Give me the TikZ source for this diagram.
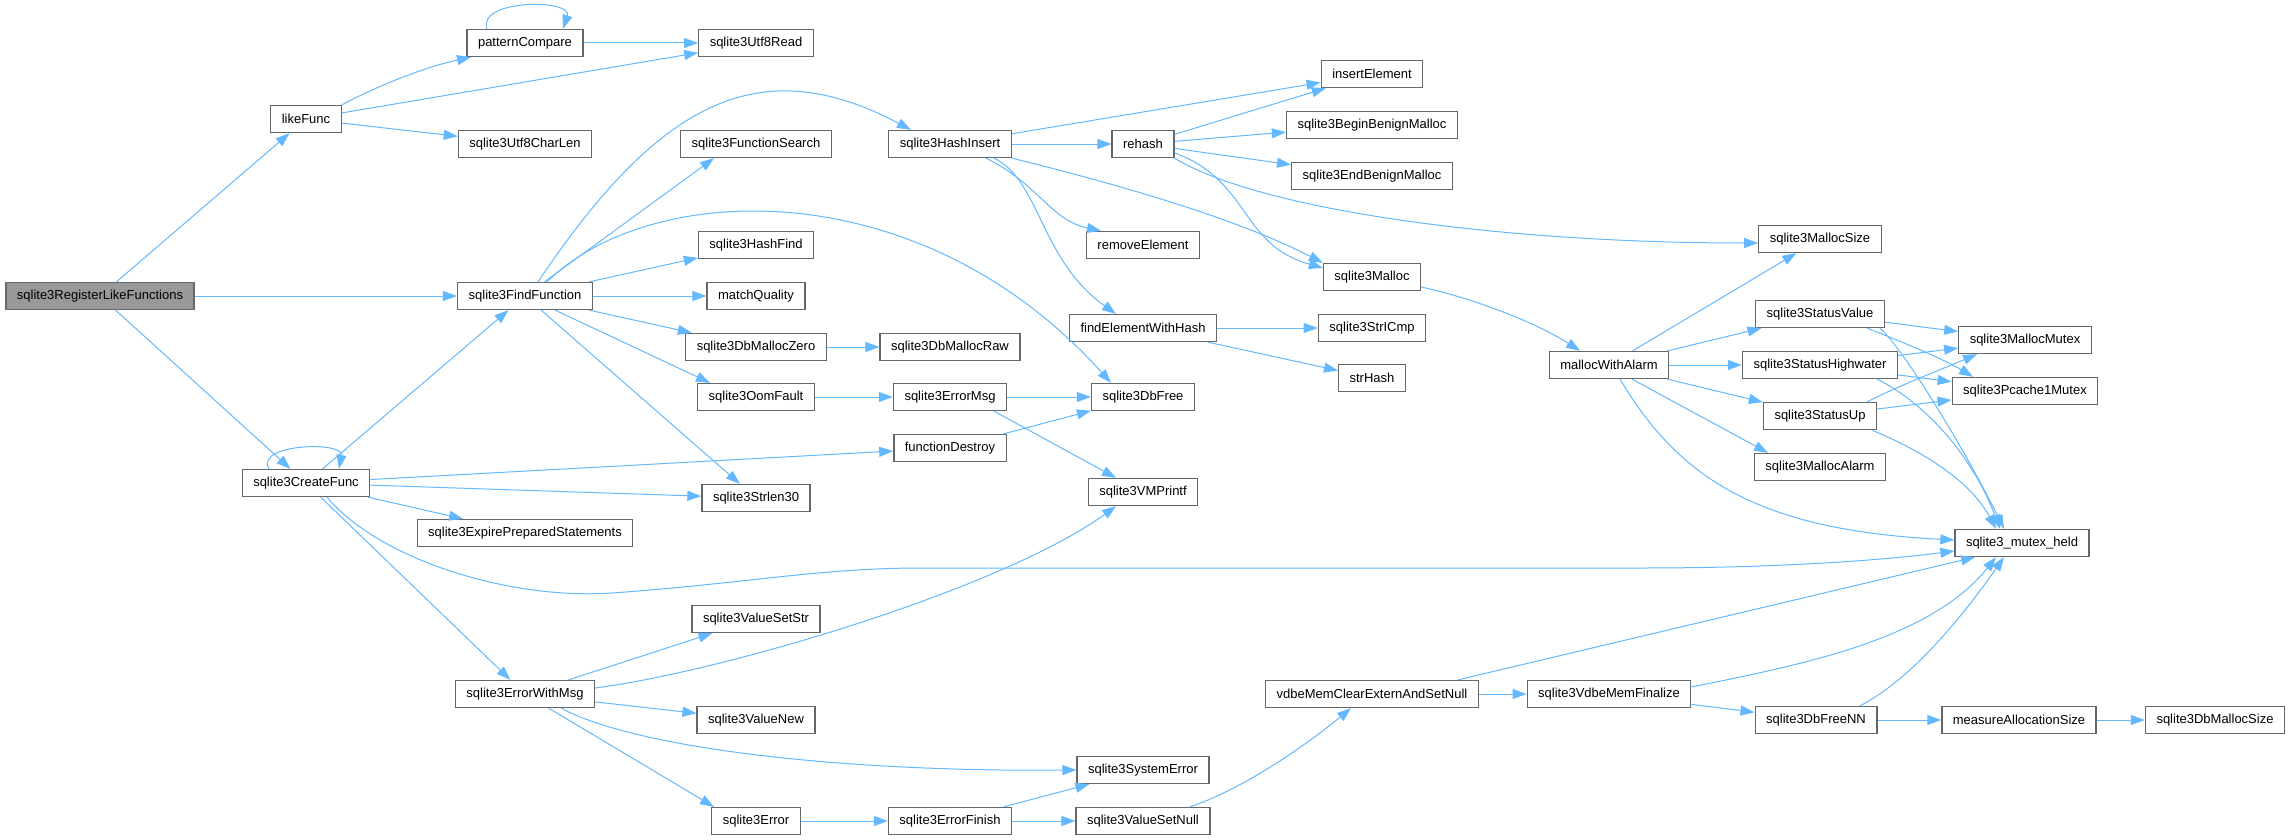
\documentclass[tikz,border=0pt]{standalone}
\usepackage{fontspec}
\setmainfont{Liberation Sans}
\usetikzlibrary{arrows.meta}
\definecolor{edgeblue}{HTML}{63B8FF}
\definecolor{boxgray}{HTML}{666666}
\definecolor{rootgray}{HTML}{999999}
\begin{document}
\begin{tikzpicture}[x=1pt, y=-1pt,
    fn/.style={draw=boxgray, line width=1.3pt, fill=white, minimum height=27pt,
      inner xsep=11pt, inner ysep=0pt, font=\fontsize{13}{15}\selectfont},
    call/.style={draw=edgeblue, line width=1pt, -{Triangle[length=14pt,width=10pt]}}]
  \useasboundingbox (0,0) rectangle (2290,840);

  \node[fn, fill=rootgray] (root) at (100,296) {sqlite3RegisterLikeFunctions};
  \foreach \id/\x/\y/\txt in {
      likeFunc/306/119/likeFunc, createFunc/306/483/sqlite3CreateFunc,
      patternCompare/525/43/patternCompare, utf8CharLen/525/144/sqlite3Utf8CharLen,
      findFunction/525/296/sqlite3FindFunction, expirePrepared/525/533/sqlite3ExpirePreparedStatements,
      errorWithMsg/525/694/sqlite3ErrorWithMsg,
      utf8Read/756/43/sqlite3Utf8Read, functionSearch/756/144/sqlite3FunctionSearch,
      hashFind/756/245/sqlite3HashFind, matchQuality/756/296/matchQuality,
      dbMallocZero/756/347/sqlite3DbMallocZero, oomFault/756/397/sqlite3OomFault,
      strlen30/756/498/sqlite3Strlen30, valueSetStr/756/619/sqlite3ValueSetStr,
      valueNew/756/720/sqlite3ValueNew, sqliteError/756/821/sqlite3Error,
      hashInsert/950/144/sqlite3HashInsert, dbMallocRaw/950/347/sqlite3DbMallocRaw,
      errorMsg/950/397/sqlite3ErrorMsg, functionDestroy/950/448/functionDestroy,
      errorFinish/950/821/sqlite3ErrorFinish,
      rehash/1143/144/rehash, removeElement/1143/245/removeElement,
      findElementWithHash/1143/328/findElementWithHash, dbFree/1143/397/sqlite3DbFree,
      vmPrintf/1143/492/sqlite3VMPrintf, systemError/1143/770/sqlite3SystemError,
      valueSetNull/1143/821/sqlite3ValueSetNull,
      insertElement/1372/74/insertElement, beginBenign/1372/125/sqlite3BeginBenignMalloc,
      endBenign/1372/176/sqlite3EndBenignMalloc, sqliteMalloc/1372/277/sqlite3Malloc,
      strICmp/1372/328/sqlite3StrICmp, strHash/1372/378/strHash,
      vdbeMemClear/1372/694/vdbeMemClearExternAndSetNull,
      mallocWithAlarm/1609/365/mallocWithAlarm, vdbeMemFinalize/1609/694/sqlite3VdbeMemFinalize,
      mallocSize/1820/239/sqlite3MallocSize, statusValue/1820/314/sqlite3StatusValue,
      statusHighwater/1820/365/sqlite3StatusHighwater, statusUp/1820/416/sqlite3StatusUp,
      mallocAlarm/1820/467/sqlite3MallocAlarm, dbFreeNN/1816/720/sqlite3DbFreeNN,
      mallocMutex/2025/340/sqlite3MallocMutex, pcache1Mutex/2025/391/sqlite3Pcache1Mutex,
      mutexHeld/2022/543/sqlite3\_mutex\_held, measureAlloc/2019/720/measureAllocationSize,
      dbMallocSize/2215/720/sqlite3DbMallocSize} {
    \node[fn] (\id) at (\x,\y) {\txt};
  }

  % plain calls, centre to centre
  \foreach \a/\b in {root/likeFunc, root/findFunction, root/createFunc,
      likeFunc/utf8Read, likeFunc/utf8CharLen, patternCompare/utf8Read,
      findFunction/hashFind, findFunction/matchQuality, findFunction/dbMallocZero,
      findFunction/strlen30, createFunc/findFunction, createFunc/functionDestroy,
      createFunc/strlen30, createFunc/expirePrepared, createFunc/errorWithMsg,
      errorWithMsg/valueSetStr, errorWithMsg/valueNew,
      hashInsert/insertElement, hashInsert/rehash,
      rehash/insertElement, rehash/beginBenign, rehash/endBenign,
      findElementWithHash/strICmp, findElementWithHash/strHash,
      dbMallocZero/dbMallocRaw, oomFault/errorMsg, errorMsg/dbFree, functionDestroy/dbFree,
      sqliteError/errorFinish, errorFinish/systemError, errorFinish/valueSetNull,
      vdbeMemClear/vdbeMemFinalize, vdbeMemFinalize/dbFreeNN, dbFreeNN/measureAlloc,
      measureAlloc/dbMallocSize, mallocWithAlarm/mallocSize, mallocWithAlarm/statusValue,
      mallocWithAlarm/statusHighwater, mallocWithAlarm/statusUp,
      statusValue/mallocMutex, statusHighwater/mallocMutex, statusHighwater/pcache1Mutex,
      statusUp/pcache1Mutex} {
    \draw[call] (\a) -- (\b);
  }

  % recursion
  \draw[call] ([xshift=-38pt]patternCompare.north) .. controls +(-10,-30) and +(10,-30) .. ([xshift=38pt]patternCompare.north);
  \draw[call] ([xshift=-37pt]createFunc.north) .. controls +(-15,-25) and +(5,-28) .. ([xshift=33pt]createFunc.north);

  % bent calls
  \draw[call] (likeFunc.north east) .. controls (385,82) and (430,66) .. ([xshift=-54pt]patternCompare.south);
  \draw[call] ([xshift=13pt]findFunction.north) .. controls (660,100) and (760,50) .. ([xshift=-39pt]hashInsert.north);
  \draw[call] (findFunction) -- ([xshift=-42pt]functionSearch.south);
  \draw[call] ([xshift=22pt]findFunction.north) .. controls (650,180) and (920,170) .. ([xshift=-32pt]dbFree.north);
  \draw[call] (findFunction) -- ([xshift=-46pt]oomFault.north);
  \draw[call] ([xshift=21pt]createFunc.south) .. controls (380,560) and (510,600) .. (612,593)
    .. controls (740,584) and (820,568) .. (920,568) -- (1640,568)
    .. controls (1800,568) and (1900,558) .. ([yshift=-8pt]mutexHeld.west);
  \draw[call] ([yshift=6pt]errorWithMsg.east) .. controls (720,672) and (1000,590) .. ([xshift=-27pt]vmPrintf.south);
  \draw[call] ([xshift=36pt]errorWithMsg.south) .. controls (640,750) and (850,772) .. (systemError.west);
  \draw[call] (errorWithMsg) -- ([xshift=-42pt]sqliteError.north);
  \draw[call] ([xshift=44pt]errorMsg.south) -- ([xshift=-27pt]vmPrintf.north);
  \draw[call] ([xshift=36pt]hashInsert.south) .. controls (1040,185) and (1050,220) .. ([xshift=-42pt]removeElement.north);
  \draw[call] ([xshift=44pt]hashInsert.south) .. controls (1040,180) and (1040,260) .. ([xshift=-27pt]findElementWithHash.north);
  \draw[call] (hashInsert.south east) .. controls (1100,180) and (1230,215) .. (sqliteMalloc.north west);
  \draw[call] ([yshift=-9pt]rehash.east) .. controls (1250,180) and (1240,245) .. ([yshift=-5pt]sqliteMalloc.north west);
  \draw[call] (rehash.south east) .. controls (1260,210) and (1500,243) .. ([yshift=-4pt]mallocSize.west);
  \draw[call] ([yshift=-10pt]sqliteMalloc.east) .. controls (1480,300) and (1540,325) .. ([xshift=-29pt]mallocWithAlarm.north);
  \draw[call] ([xshift=47pt]valueSetNull.north) .. controls (1240,790) and (1300,750) .. ([xshift=-21pt]vdbeMemClear.south);
  \draw[call] ([xshift=86pt]vdbeMemClear.north) -- ([xshift=-47pt]mutexHeld.south);
  \draw[call] ([yshift=7pt]vdbeMemFinalize.east) .. controls (1800,665) and (1930,640) .. ([xshift=-26pt]mutexHeld.south);
  \draw[call] ([xshift=44pt]dbFreeNN.north) .. controls (1910,680) and (1960,620) .. ([xshift=-18pt]mutexHeld.south);
  \draw[call] ([xshift=23pt]mallocWithAlarm.south) -- ([xshift=-52pt]mallocAlarm.north);
  \draw[call] ([xshift=11pt]mallocWithAlarm.south) .. controls (1680,480) and (1760,530) .. ([yshift=3pt]mutexHeld.west);
  \draw[call] ([xshift=47pt]statusValue.south) .. controls (1910,345) and (1945,360) .. ([xshift=-52pt]pcache1Mutex.north);
  \draw[call] ([xshift=60pt]statusValue.south) .. controls (1900,345) and (1960,440) .. ([xshift=-18pt]mutexHeld.north);
  \draw[call] ([xshift=57pt]statusHighwater.south) .. controls (1920,400) and (1970,450) .. ([xshift=-22pt]mutexHeld.north);
  \draw[call] ([xshift=47pt]statusUp.north) .. controls (1900,385) and (1945,368) .. ([xshift=-48pt]mallocMutex.south);
  \draw[call] ([xshift=52pt]statusUp.south) .. controls (1920,450) and (1970,480) .. ([xshift=-26pt]mutexHeld.north);
\end{tikzpicture}
\end{document}
